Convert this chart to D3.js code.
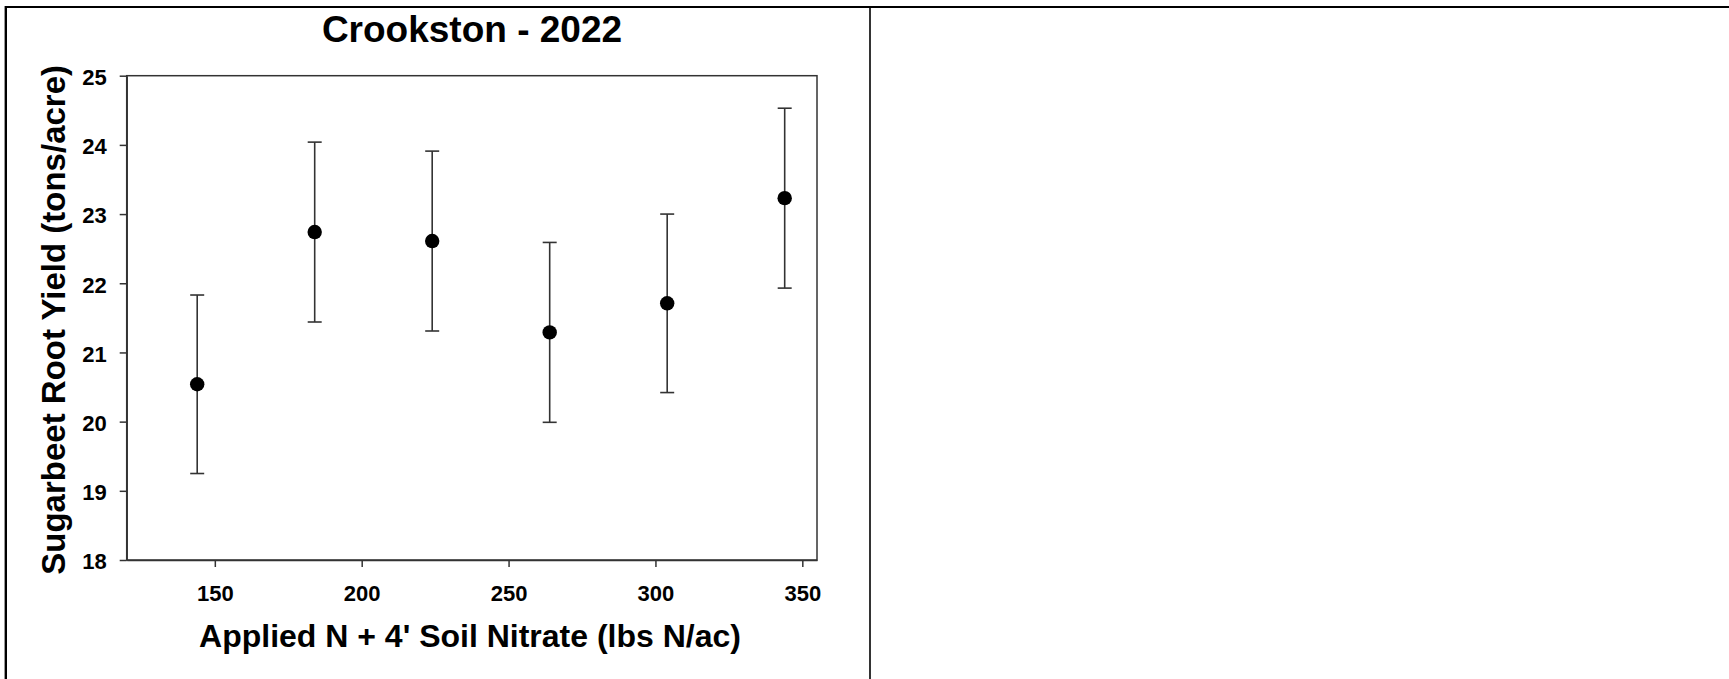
<!DOCTYPE html>
<html>
<head>
	<title>Crookston - 2022</title>
	<style type="text/css">
		body {
			margin: 0;
			background: white;
		}
		text {
			font-family: "Liberation Sans", Arial, Helvetica, sans-serif;
			font-weight: bold;
			fill: black;
		}
		.axis path, .axis line {
			stroke: #333;
			stroke-width: 1.5px;
		}
		.axis text {
			font-size: 22px;
		}
	</style>
</head>
<body>
<svg id="chart"></svg>

<script type="text/javascript" src="https://d3js.org/d3.v7.min.js"></script>
<script type="text/javascript">

	// data
	var nitrogen = [144, 184, 224, 264, 304, 344];
	var rootYield = [20.54, 22.74, 22.61, 21.29, 21.71, 23.23];
	var yieldErr = [1.29, 1.30, 1.30, 1.30, 1.29, 1.30];
	var xTicks = [150, 200, 250, 300, 350];
	var yTicks = [18, 19, 20, 21, 22, 23, 24, 25];

	var width = 1729, height = 679;
	var plot = {left: 126.7, right: 817, top: 75.7, bottom: 560};

	var svg = d3.select("#chart")
		.attr("width", width)
		.attr("height", height);

	// table-like frame around the two panels
	svg.append("line")
		.attr("x1", 5).attr("x2", width)
		.attr("y1", 7).attr("y2", 7)
		.style("stroke", "black").style("stroke-width", 1.8);
	svg.append("line")
		.attr("x1", 5.8).attr("x2", 5.8)
		.attr("y1", 6).attr("y2", height)
		.style("stroke", "black").style("stroke-width", 2.4);
	svg.append("line")
		.attr("x1", 870).attr("x2", 870)
		.attr("y1", 6).attr("y2", height)
		.style("stroke", "black").style("stroke-width", 1.6);

	var x = d3.scaleLinear()
		.domain([120, 355])
		.range([plot.left, plot.right]);

	var y = d3.scaleLinear()
		.domain([18, 25])
		.range([plot.bottom, plot.top]);

	// box around plot area
	svg.append("rect")
		.attr("x", plot.left)
		.attr("y", plot.top)
		.attr("width", plot.right - plot.left)
		.attr("height", plot.bottom - plot.top)
		.style("fill", "none")
		.style("stroke", "#333")
		.style("stroke-width", 1.5);

	var xAxis = svg.append("g")
		.attr("class", "axis")
		.attr("transform", "translate(0," + plot.bottom + ")")
		.call(d3.axisBottom(x).tickValues(xTicks).tickFormat(d3.format("d")).tickSize(7).tickSizeOuter(0).tickPadding(0));
	xAxis.selectAll("text")
		.attr("dy", null)
		.attr("y", 41);

	var yAxis = svg.append("g")
		.attr("class", "axis")
		.attr("transform", "translate(" + plot.left + ",0)")
		.call(d3.axisLeft(y).tickValues(yTicks).tickFormat(d3.format("d")).tickSize(7).tickSizeOuter(0).tickPadding(13));
	yAxis.selectAll("text")
		.attr("dy", "0.4em");

	// error bars
	var bars = svg.append("g").selectAll("g")
		.data(nitrogen)
		.enter().append("g");

	bars.append("line")
		.attr("x1", d => x(d)).attr("x2", d => x(d))
		.attr("y1", (d, i) => y(rootYield[i] + yieldErr[i]))
		.attr("y2", (d, i) => y(rootYield[i] - yieldErr[i]))
		.style("stroke", "#333").style("stroke-width", 1.6);

	bars.append("line")
		.attr("x1", d => x(d) - 7).attr("x2", d => x(d) + 7)
		.attr("y1", (d, i) => y(rootYield[i] + yieldErr[i]))
		.attr("y2", (d, i) => y(rootYield[i] + yieldErr[i]))
		.style("stroke", "#333").style("stroke-width", 1.6);

	bars.append("line")
		.attr("x1", d => x(d) - 7).attr("x2", d => x(d) + 7)
		.attr("y1", (d, i) => y(rootYield[i] - yieldErr[i]))
		.attr("y2", (d, i) => y(rootYield[i] - yieldErr[i]))
		.style("stroke", "#333").style("stroke-width", 1.6);

	bars.append("circle")
		.attr("cx", d => x(d))
		.attr("cy", (d, i) => y(rootYield[i]))
		.attr("r", 7.2)
		.style("fill", "black");

	// titles
	svg.append("text")
		.attr("x", 472)
		.attr("y", 42)
		.attr("text-anchor", "middle")
		.style("font-size", "37px")
		.text("Crookston - 2022");

	svg.append("text")
		.attr("x", 470)
		.attr("y", 647)
		.attr("text-anchor", "middle")
		.style("font-size", "32px")
		.text("Applied N + 4' Soil Nitrate (lbs N/ac)");

	svg.append("text")
		.attr("transform", "translate(65," + ((plot.top + plot.bottom) / 2 + 2) + ") rotate(-90)")
		.attr("text-anchor", "middle")
		.style("font-size", "33px")
		.text("Sugarbeet Root Yield (tons/acre)");

</script>
</body>
</html>
